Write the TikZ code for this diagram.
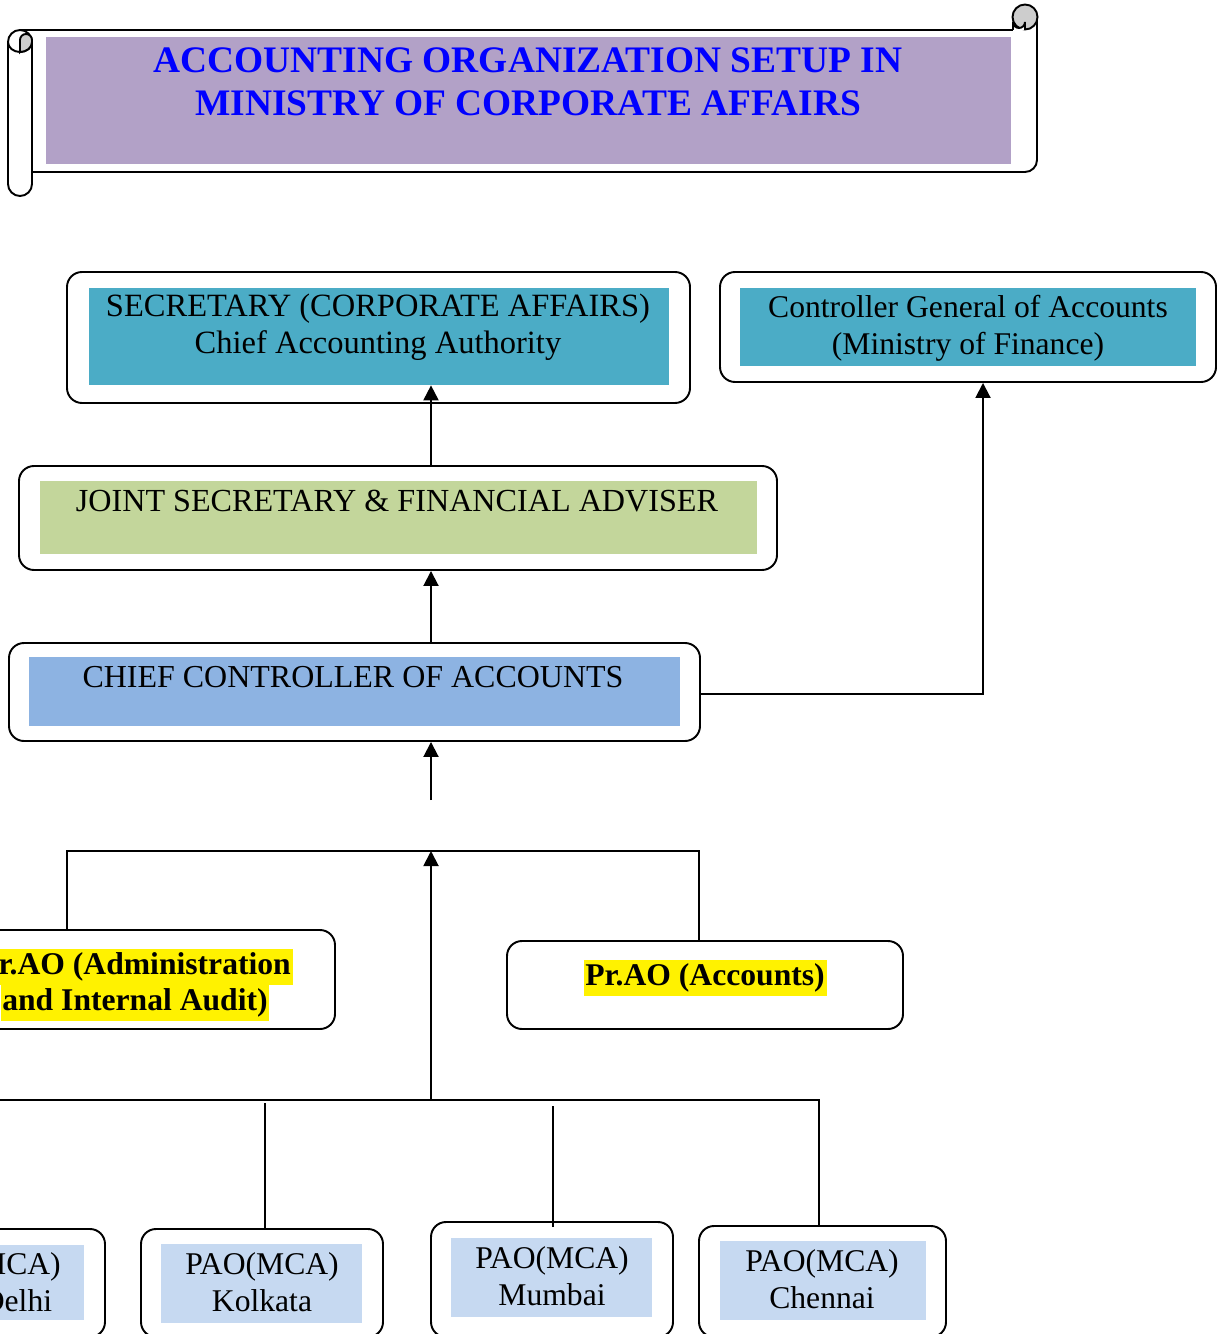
\documentclass[tikz,border=0pt]{standalone}
\usepackage{fontspec}
\setmainfont{Liberation Serif}
\usetikzlibrary{fit,arrows.meta}
\definecolor{titlefill}{HTML}{B2A1C7}
\definecolor{titleblue}{HTML}{0000FF}
\definecolor{tealfill}{HTML}{4BACC6}
\definecolor{greenfill}{HTML}{C3D69B}
\definecolor{ccafill}{HTML}{8DB3E2}
\definecolor{paofill}{HTML}{C6D9F1}
\definecolor{curlgray}{HTML}{CDCDCD}

\begin{document}
\begin{tikzpicture}[x=0.02cm,y=-0.02cm]
\tikzset{frame/.style={draw,line width=1.1pt,rounded corners=0.3cm,inner sep=0pt},
  band/.style={inner sep=0pt},
  txt/.style={font=\fontsize{18}{21}\selectfont,align=center,inner sep=0pt},
  hltxt/.style={font=\fontsize{18}{21}\selectfont\bfseries,fill=yellow,inner sep=1pt,text height=13pt,text depth=5pt},
  arr/.style={-{Triangle[length=0.3cm,width=0.3cm]},line width=1.1pt},
  wire/.style={line width=1.1pt},
  curl/.style={draw,line width=1.1pt,fill=curlgray}}
\useasboundingbox (0,0) rectangle (1217,1334);
\clip (0,0) rectangle (1217,1334);

\draw[wire] (20,30) -- (1013,30);
\draw[wire] (1037,17) -- (1037,160) arc[start angle=0,end angle=-90,radius=0.24cm] -- (32,172);
\draw[curl] (1025,17) circle[radius=0.25cm];
\fill[white] (1013,30) -- (1013,22) arc[start angle=180,end angle=360,radius=0.12cm] -- (1025,30) -- cycle;
\draw[wire] (1013,30) -- (1013,22) arc[start angle=180,end angle=360,radius=0.12cm] -- (1025,30);
\draw[wire,fill=white,rounded corners=0.24cm] (8,30) rectangle (32,196);
\draw[wire] (8,42) arc[start angle=180,end angle=360,x radius=0.24cm,y radius=0.2cm];
\draw[curl] (20,52) -- (20,40) arc[start angle=180,end angle=0,radius=0.12cm] -- (32,42)
  arc[start angle=0,end angle=-90,x radius=0.24cm,y radius=0.2cm] -- cycle;

\node[band,fill=titlefill,fit={(46,37) (1011,164)}] (titleband) {};
\node[font=\fontsize{21.3}{24.6}\selectfont\bfseries,text=titleblue,align=center,inner sep=0pt] (title) at (528,82)
  {ACCOUNTING ORGANIZATION SETUP IN\\MINISTRY OF CORPORATE AFFAIRS};

\node[frame,fit={(67,272) (690,403)}] (sec) {};
\node[band,fill=tealfill,fit={(89,288) (669,385)}] (secband) {};
\node[txt,font=\fontsize{18.5}{21.2}\selectfont] (sectxt) at (378,327) {SECRETARY (CORPORATE AFFAIRS)\\Chief Accounting Authority};

\node[frame,fit={(720,272) (1216,382)}] (cga) {};
\node[band,fill=tealfill,fit={(740,288) (1196,366)}] (cgaband) {};
\node[txt] (cgatxt) at (968,328) {Controller General of Accounts\\(Ministry of Finance)};

\node[frame,fit={(19,466) (777,570)}] (js) {};
\node[band,fill=greenfill,fit={(40,481) (757,554)}] (jsband) {};
\node[txt,font=\fontsize{18.3}{21}\selectfont] (jstxt) at (397,501) {JOINT SECRETARY \& FINANCIAL ADVISER};

\node[frame,fit={(9,643) (700,741)}] (cca) {};
\node[band,fill=ccafill,fit={(29,657) (680,726)}] (ccaband) {};
\node[txt,font=\fontsize{18.2}{21}\selectfont] (ccatxt) at (353,677) {CHIEF CONTROLLER OF ACCOUNTS};

\node[frame,fit={(-65,930) (335,1029)}] (adm) {};
\node[hltxt] (admtxta) at (135,967) {Pr.AO (Administration};
\node[hltxt] (admtxtb) at (135,1003) {and Internal Audit)};

\node[frame,fit={(507,941) (903,1029)}] (acc) {};
\node[hltxt] (acctxt) at (705,978) {Pr.AO (Accounts)};

\node[frame,fit={(-137,1229) (105,1337)}] (del) {};
\node[band,fill=paofill,fit={(-117,1245) (84,1320)}] (delband) {};
\node[txt] (deltxt) at (-16,1282) {PAO(MCA)\\\hspace*{1.32cm}Delhi};

\node[frame,fit={(141,1229) (383,1337)}] (kol) {};
\node[band,fill=paofill,fit={(161,1244) (362,1323)}] (kolband) {};
\node[txt] (koltxt) at (262,1282) {PAO(MCA)\\Kolkata};

\node[frame,fit={(431,1222) (673,1337)}] (mum) {};
\node[band,fill=paofill,fit={(451,1238) (652,1317)}] (mumband) {};
\node[txt] (mumtxt) at (552,1276) {PAO(MCA)\\Mumbai};

\node[frame,fit={(699,1226) (946,1337)}] (che) {};
\node[band,fill=paofill,fit={(720,1241) (926,1320)}] (cheband) {};
\node[txt] (chetxt) at (822,1279) {PAO(MCA)\\Chennai};

\coordinate (trunk) at (431,800);
\coordinate (upbus) at (431,851);
\coordinate (lowbus) at (431,1100);
\coordinate (cgadrop) at (983,694);
\coordinate (admdrop) at (67,851);
\coordinate (accdrop) at (699,851);
\coordinate (busend) at (-20,1100);
\coordinate (chedrop) at (819,1100);
\coordinate (koldrop) at (265,1103);
\coordinate (mumdrop) at (553,1106);

\draw[arr] (js.north -| trunk) -- (secband.south -| trunk);
\draw[arr] (cca.north -| trunk) -- (js.south -| trunk);
\draw[arr] (cca.east |- cgadrop) -| (cga.south -| cgadrop);
\draw[arr] (trunk) -- (cca.south -| trunk);
\draw[wire] (adm.north -| admdrop) -- (admdrop) -- (accdrop) -- (acc.north -| accdrop);
\draw[arr] (lowbus) -- (upbus);
\draw[wire] (busend) -- (chedrop) -- (che.north -| chedrop);
\draw[wire] (koldrop) -- (kol.north -| koldrop);
\draw[wire] (mumdrop) -- ([yshift=-0.12cm]mum.north -| mumdrop);
\end{tikzpicture}
\end{document}
